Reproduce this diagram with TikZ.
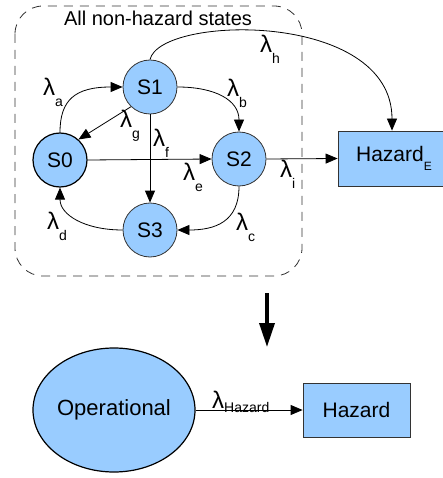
\documentclass[tikz,border=0pt]{standalone}
\usepackage{fontspec}
\setmainfont{Liberation Sans}
\usetikzlibrary{arrows.meta,shapes.geometric}
\definecolor{nodeblue}{HTML}{99CCFF}
\definecolor{edgegray}{HTML}{333333}
\newcommand{\lsub}[2][-11pt]{{\fontsize{24}{24}\selectfont λ}\raisebox{#1}{\fontsize{14}{14}\selectfont #2}}
\begin{document}
\begin{tikzpicture}[x=1pt,y=-1pt,
  state/.style={circle,draw=edgegray,line width=0.8pt,fill=nodeblue,minimum size=54pt,inner sep=0pt,font=\fontsize{21}{21}\selectfont},
  hbox/.style={rectangle,draw=edgegray,line width=0.8pt,fill=nodeblue,inner sep=0pt,font=\fontsize{21}{21}\selectfont},
  arr/.style={-{Triangle[length=12pt,width=10pt]},line width=0.8pt},
  lab/.style={anchor=base west,inner sep=0pt,font=\fontsize{21}{21}\selectfont}]
\useasboundingbox (0,0) rectangle (443,478);

% group
\draw[dash pattern=on 9pt off 7pt, draw=edgegray, line width=0.8pt, rounded corners=28pt] (15,6) rectangle (302,276);
\node[anchor=base,inner sep=0pt,font=\fontsize{20}{20}\selectfont] (title) at (158,26) {All non-hazard states};

% states
\node[state,draw=black,line width=1.2pt] (S0) at (60,160) {S0};
\node[state] (S1) at (150,87) {S1};
\node[state] (S2) at (239,159) {S2};
\node[state] (S3) at (150,230) {S3};
\node[hbox,minimum width=112pt,minimum height=55pt] (HE) at (394,158.5) {Hazard\raisebox{-9pt}{\fontsize{12}{12}\selectfont E}};

% transitions
\draw[arr] (S0.north) .. controls (60,100) and (75,87) .. (S1.west);
\draw[arr] (S1.east) .. controls (215,87) and (239,100) .. (S2.north);
\draw[arr] (S1.226) -- (S0.48);
\draw[arr] (S1.south) -- (S3.north);
\draw[arr] (S0.east) -- (S2.west);
\draw[arr] (S2.east) -- (HE.west);
\draw[arr] (S2.south) .. controls (239,222) and (215,230) .. (S3.east);
\draw[arr] (S3.west) .. controls (85,230) and (60,215) .. (S0.south);
\draw[arr] (S1.north) .. controls (160,15) and (392,10) .. (HE.north -| 392,0);

% labels
\node[lab] (la) at (43,96) {\lsub{a}};
\node[lab] (lb) at (227,97) {\lsub{b}};
\node[lab] (lg) at (120,128) {\lsub{g}};
\node[lab] (lf) at (153,147) {\lsub{f}};
\node[lab] (le) at (183,180) {\lsub{e}};
\node[lab] (li) at (280,178) {\lsub{i}};
\node[lab] (lc) at (236,230) {\lsub{c}};
\node[lab] (ld) at (47,229) {\lsub{d}};
\node[lab] (lh) at (260,53) {\lsub{h}};

% big arrow
\coordinate (bigA) at (267,293);
\coordinate (bigB) at (267,347);
\draw[line width=3.5pt,-{Triangle[length=24pt,width=15pt]}] (bigA) -- (bigB);

% reduced model
\node[ellipse,draw=black,line width=1.2pt,fill=nodeblue,minimum width=162pt,minimum height=124pt,inner sep=0pt,font=\fontsize{22}{22}\selectfont] (op) at (114,410) {Operational};
\node[hbox,minimum width=107pt,minimum height=54pt] (hz) at (356.5,410) {Hazard};
\draw[arr] (op.east) -- (hz.west);
\node[lab] (lhz) at (212,408) {\lsub[-4pt]{Hazard}};
\end{tikzpicture}
\end{document}
